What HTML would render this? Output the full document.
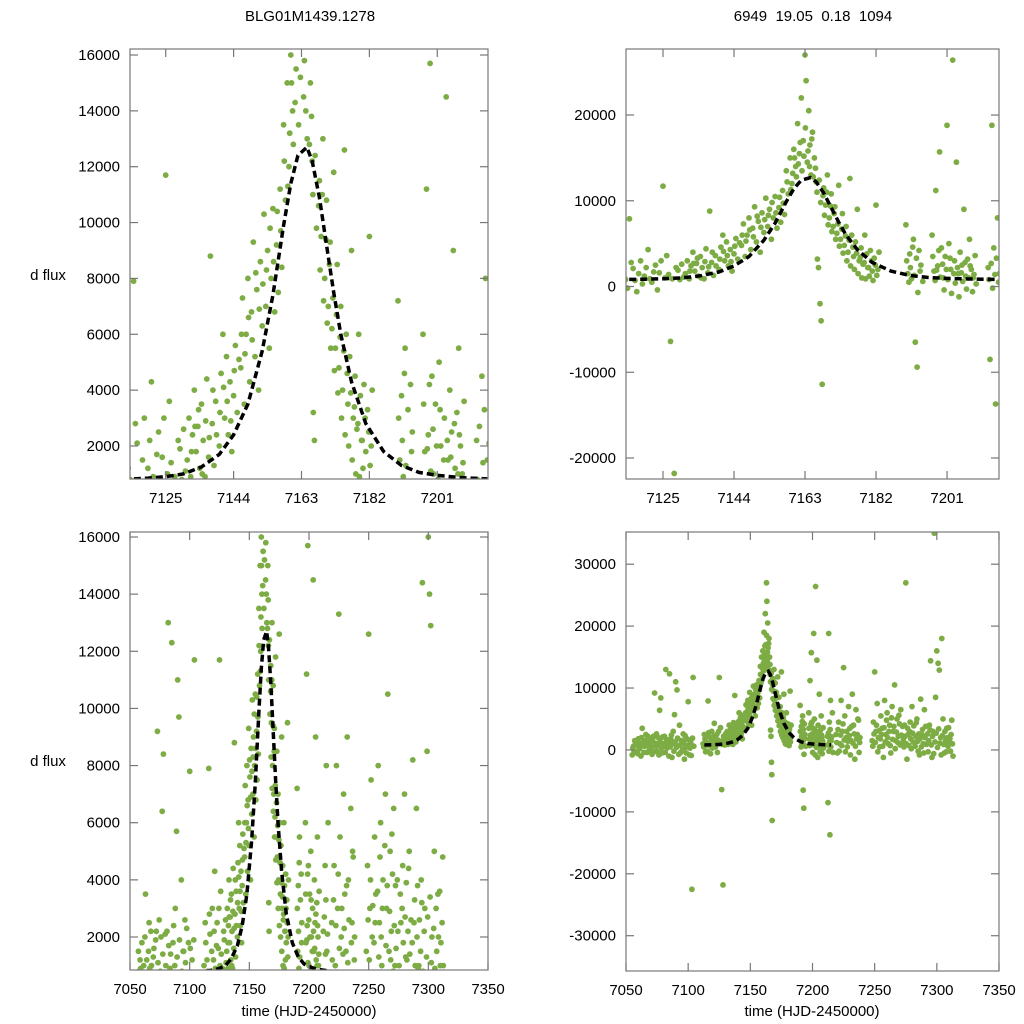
<!DOCTYPE html>
<html><head><meta charset="utf-8"><style>
html,body{margin:0;padding:0;background:#fff;width:1024px;height:1024px;overflow:hidden;}
svg{display:block;font-family:"Liberation Sans",sans-serif;}
</style></head><body>
<svg id="chart" width="1024" height="1024" viewBox="0 0 1024 1024">
<text x="310" y="21" font-size="15" text-anchor="middle" fill="#000">BLG01M1439.1278</text>
<text x="813" y="21" font-size="15" text-anchor="middle" fill="#000" xml:space="preserve">6949  19.05  0.18  1094</text>
<text x="48" y="280" font-size="15" text-anchor="middle">d flux</text>
<text x="48" y="766" font-size="15" text-anchor="middle">d flux</text>
<text x="309" y="1016" font-size="15" text-anchor="middle">time (HJD-2450000)</text>
<text x="812" y="1016" font-size="15" text-anchor="middle">time (HJD-2450000)</text>
</svg>
<script>
// observations [time, flux]
const observations = [
[7055,-800],[7056,600],[7057,1500],[7058,-300],[7059,900],[7060,1800],[7061,200],[7062,-1000],[7063,3500],[7064,1200],[7065,600],[7066,2500],[7067,-400],[7068,1000],[7069,300],[7070,1600],[7071,-700],[7072,2200],[7073,9200],[7074,600],[7075,-200],[7076,2000],[7077,6400],[7078,8400],[7079,-500],[7080,1000],[7081,2200],[7082,13000],[7083,300],[7084,1400],[7085,12300],[7086,1800],[7087,-1200],[7088,3000],[7089,5700],[7090,11000],[7091,9700],[7092,700],[7093,4000],[7094,-400],[7095,1500],[7096,2600],[7097,-1500],[7098,400],[7099,1800],[7100,7800],[7101,-800],[7102,1200],[7103,-22500],[7104,11700],
[7112,1000],[7113,2500],[7114,-300],[7115,800],[7116,7900],[7117,2100],[7118,-600],[7119,3000],[7120,1200],[7121,4300],[7122,500],[7123,2500],[7124,1600],[7125,11700],[7125.5,1000],[7126,3600],[7127,-6400],[7127.5,900],[7128,-21800],[7128.5,2200],
[7131,1500],[7131.5,3000],[7132,900],[7132.5,2400],[7133,4000],[7133.5,1800],[7134,2700],[7134.5,1200],[7135,3500],[7135.5,2200],[7136,900],[7136.5,4400],[7137,1600],[7137.5,8800],[7138,2800],[7138.5,1300],[7139,3600],[7140,2000],[7140.5,4600],[7141,6000],[7141.5,3000],[7142,5200],[7142.5,2400],[7143,4300],[7143.5,1800],[7144,3800],[7144.5,5600],
[7146,4800],[7146.5,7300],[7147,3500],[7147.5,6000],[7148,8000],[7148.5,4300],[7149,6800],[7149.5,9300],[7150,5200],[7150.5,7600],[7151,4000],[7151.5,8600],[7152,6300],[7152.5,10300],[7153,7000],[7153.5,9000],[7154,5500],[7154.5,8000],[7155,10500],[7155.5,6800],[7156,9200],[7156.5,7500],[7157,11200],[7157.5,8400],[7158,13500],[7158.5,10800],[7159,15000],[7159.5,12000],[7160,16000],[7160.5,14000],[7161,19000],[7161.5,15500],[7162,22000],[7162.5,17000],[7163,27000],[7163.3,24000],[7163.6,14500],[7164,20500],[7164.3,16500],[7164.6,13000],[7165,18000],[7165.5,15000],[7166,12200],[7166.3,3200],[7166.6,2200],[7167,-2000],[7167.3,-4000],[7167.6,-11400],[7168,11500],[7168.5,9500],[7169,13000],[7169.5,8000],[7170,10800],[7170.5,7000],[7171,9300],[7171.5,6200],[7172,11800],[7172.5,5500],[7173,8500],[7173.5,4800],[7174,7000],[7174.5,4000],[7175,12600],[7175.5,6000],[7176,3500],[7176.5,5200],[7177,9000],[7177.5,3000],[7178,4500],[7178.5,2600],[7179,6000],[7179.5,3800],[7180,2200],[7180.5,4200],[7181,1800],[7181.5,3300],[7182,9500],[7182.5,2000],
[7190,7200],[7190.5,1500],[7191,3800],[7191.5,900],[7192,5500],[7192.5,-6500],[7193,-9400],[7193.5,4200],[7194,2500],[7197,6000],[7197.5,1800],[7198,11200],[7198.5,2400],[7199,15700],[7199.5,4500],[7200,1000],[7200.5,3500],[7201,18800],[7201.5,5000],[7202,2000],[7202.5,26400],[7203,3000],[7203.5,14500],[7204,1500],[7204.5,4000],[7205,2500],[7205.5,9000],[7206,1200],[7206.5,3200],[7207,5500],[7207.5,2000],[7208,1000],[7208.5,3600],
[7212,2200],[7212.5,-8500],[7213,18800],[7213.5,4500],[7214,-13700],[7214.5,8000],[7215,1500],[7216,6000],
[7219,2500],[7220,-500],[7221,4500],[7222,1000],[7223,8000],[7224,3000],[7225,13300],[7226,5500],[7227,2000],[7228,500],[7229,7000],[7230,3500],[7231,1500],[7232,9000],[7233,4000],[7234,-1500],[7235,6500],[7236,2500],[7237,4800],[7238,1200],
[7248,1500],[7249,4500],[7250,12600],[7251,3000],[7252,7500],[7253,2000],[7254,500],[7255,5500],[7256,3500],[7257,-1200],[7258,8000],[7259,2500],[7260,6000],[7261,1000],[7262,4000],[7263,-500],[7264,7000],[7265,3000],[7266,10500],[7267,1500],[7268,5000],[7269,2200],[7270,4200],[7271,6500],[7272,1000],[7274,4000],[7275,27000],[7276,-1500],[7278,3000],[7280,7000],[7282,1200],[7284,5000],[7286,-800],[7287,8200],[7288,2500],[7290,6500],[7292,1000],[7294,4000],[7295,14400],[7296,-1200],[7297,3000],[7298,35000],[7299,8500],[7300,16000],[7301,14000],[7302,12900],[7303,2000],[7304,18000],[7305,5000],[7306,-500],[7308,3500],[7310,1000],[7312,4800],[7313,-1000]
];
// additional baseline-band observations [time, flux]
const observationsBand = [
[7055.5,300],[7056.5,-200],[7057.5,800],[7058.5,1200],[7059.5,-600],[7060.5,400],[7061.5,1000],[7062.5,2000],[7063.5,700],[7064.5,-400],[7065.5,1500],[7066.5,900],[7067.5,2200],[7068.5,-100],[7069.5,1300],[7070.5,500],[7071.5,1900],[7072.5,-300],[7073.5,1100],[7074.5,2600],[7075.5,800],[7076.5,-800],[7077.5,1400],[7078.5,300],[7079.5,2100],[7080.5,600],[7081.5,-400],[7082.5,1700],[7083.5,900],[7084.5,-1000],[7085.5,500],[7086.5,2400],[7087.5,1000],[7088.5,-200],[7089.5,1300],[7090.5,400],[7091.5,1900],[7092.5,-700],[7093.5,800],[7094.5,1500],[7095.5,100],[7096.5,1100],[7097.5,2300],[7098.5,-500],[7099.5,700],[7100.5,1600],[7101.5,300],[7102.5,-900],[7103.5,1900],[7104.5,600],
[7112.5,500],[7113.5,1800],[7114.5,1200],[7115.5,-200],[7116.5,2800],[7117.5,700],[7118.5,1500],[7119.5,300],[7120.5,2200],[7121.5,900],[7122.5,1700],[7123.5,-400],[7124.5,3000],[7126.5,1400],[7129,1900],[7129.5,800],[7130,2600],[7130.5,1100],
[7132.2,1800],[7133.2,2700],[7134.2,3300],[7135.2,1000],[7136.2,2900],[7137.2,2300],[7138.2,4000],[7139.2,2400],[7140.2,3200],[7141.2,4100],[7142.2,3600],[7143.2,2900],[7144.2,4700],[7145,3200],[7145.5,5100],[7146.2,6000],[7147.2,5300],[7148.2,6600],[7149.2,5800],[7150.2,8200],[7151.2,6900],[7152.2,7800],[7153.2,8300],[7154.2,9800],[7155.2,8600],[7156.2,10400],[7157.2,9700],[7158.2,12200],[7159.2,11300],[7159.7,13200],[7160.2,15000],[7160.7,12800],[7161.2,14300],[7161.7,16800],[7162.2,13500],[7162.7,15200],[7163.1,18500],[7163.8,15800],[7164.2,14000],[7164.8,17200],[7165.2,12800],[7165.8,13800],[7166.2,11000],[7166.8,12400],[7167.2,9800],[7167.8,10600],[7168.2,8300],[7168.8,11000],[7169.2,7200],[7169.8,9400],[7170.2,6400],[7170.8,8500],[7171.2,5500],[7171.8,7300],[7172.2,4700],[7172.8,6700],[7173.2,3900],[7173.8,5900],[7174.2,3000],[7174.8,5400],[7175.2,2400],[7175.8,4600],[7176.2,2000],[7176.8,3900],[7177.2,1500],[7177.8,3400],[7178.2,1000],[7178.8,2800],[7179.2,900],[7179.8,2200],[7180.2,1200],[7180.8,3000],[7181.2,700],[7181.8,2500],[7182.2,1300],[7182.8,4000],
[7190.2,3000],[7190.8,500],[7191.2,2200],[7191.8,4600],[7192.2,1300],[7192.8,3300],[7193.2,-700],[7193.8,1800],[7194.5,600],[7197.2,3500],[7197.8,700],[7198.2,1900],[7198.8,4200],[7199.2,1100],[7199.8,2600],[7200.2,-400],[7200.8,2000],[7201.2,800],[7201.8,3300],[7202.2,-800],[7202.8,1500],[7203.2,400],[7203.8,2200],[7204.2,-1200],[7204.8,1600],[7205.2,600],[7205.8,2800],[7206.2,-300],[7206.8,1000],[7207.2,2400],[7207.8,-600],[7208.2,1400],[7208.8,300],
[7212.2,800],[7212.8,2700],[7213.2,-200],[7213.8,1400],[7214.2,3300],[7214.8,500],[7215.5,2100],[7216.5,-400],
[7219.5,1200],[7220.5,3300],[7221.5,-200],[7222.5,2400],[7223.5,700],[7224.5,4200],[7225.5,1600],[7226.5,-300],[7227.5,3000],[7228.5,1400],[7229.5,2300],[7230.5,-800],[7231.5,3800],[7232.5,1100],[7233.5,2600],[7234.5,600],[7235.5,1800],[7236.5,5000],[7237.5,-400],[7238.2,2000],
[7248.5,600],[7249.5,2600],[7250.5,1200],[7251.5,4000],[7252.5,-300],[7253.5,3100],[7254.5,1800],[7255.5,2500],[7256.5,600],[7257.5,3600],[7258.5,1300],[7259.5,4800],[7260.5,2000],[7261.5,3000],[7262.5,700],[7263.5,5200],[7264.5,1700],[7265.5,3800],[7266.5,200],[7267.5,2900],[7268.5,1200],[7269.5,5600],[7270.5,800],[7271.5,2400],[7272.5,3800],[7273,1600],[7273.5,500],[7274.5,2200],[7275.5,1000],[7276.5,3500],[7277,2500],[7277.5,700],[7278.5,4500],[7279,1800],[7279.5,200],[7280.5,2700],[7281,1300],[7281.5,3900],[7282.5,600],[7283,2200],[7283.5,4400],[7284.5,1400],[7285,-200],[7285.5,2600],[7286.5,1800],[7287.5,500],[7288.5,3300],[7289,1000],[7289.5,-500],[7290.5,2000],[7291,3800],[7291.5,900],[7292.5,2600],[7293,-300],[7293.5,1500],[7294.5,3200],[7295.5,800],[7296.5,2200],[7297.5,-600],[7298.5,1300],[7299.5,2700],[7300.5,400],[7301.5,3400],[7302.5,1100],[7303.5,-800],[7304.5,2300],[7305.5,900],[7306.5,3000],[7307,1500],[7307.5,-300],[7308.5,2000],[7309,600],[7309.5,3600],[7310.5,1800],[7311,-200],[7311.5,2500],[7312.5,1000]
];
// model curve [time, flux]
const modelCurve = [
[7113,800],[7120,850],[7125,900],[7130,1000],[7135,1250],[7140,1700],[7144,2400],[7148,3500],[7152,5400],[7155,7400],[7158,9900],[7160,11400],[7162,12400],[7164.5,12700],[7166,12200],[7168,10900],[7170,9200],[7172,7500],[7174,6000],[7177,4300],[7181,2800],[7186,1800],[7191,1300],[7196,1050],[7201,950],[7207,870],[7215,820]
];
const tickTop = ["7125","7144","7163","7182","7201"];
const tickBottom = ["7050","7100","7150","7200","7250","7300","7350"];
const yTicksLeftTop = ["2000","4000","6000","8000","10000","12000","14000","16000"];
const yTicksRightTop = ["-20000","-10000","0","10000","20000"];
const yTicksRightBottom = ["-30000","-20000","-10000","0","10000","20000","30000"];

const panels = [
 {id:'top-left', x0:130,x1:488,y0:49,y1:479, xd:[7115,7215.2], yd:[818,16215], xt:tickTop, yt:yTicksLeftTop},
 {id:'top-right', x0:626,x1:999,y0:49,y1:479, xd:[7115.1,7214.9], yd:[-22450,27700], xt:tickTop, yt:yTicksRightTop},
 {id:'bottom-left', x0:130,x1:488,y0:532,y1:970, xd:[7050,7350], yd:[845,16175], xt:tickBottom, yt:yTicksLeftTop},
 {id:'bottom-right', x0:626,x1:999,y0:532,y1:971, xd:[7050,7350], yd:[-35700,35200], xt:tickBottom, yt:yTicksRightBottom}
];
const NS='http://www.w3.org/2000/svg';
const svg=document.getElementById('chart');
function mk(tag, attrs, parent){const e=document.createElementNS(NS,tag);for(const k in attrs)e.setAttribute(k,attrs[k]);(parent||svg).appendChild(e);return e;}
const defs=mk('defs',{});
const allObs = observations.concat(observationsBand);
panels.forEach(p=>{
  const sx=v=>p.x0+(v-p.xd[0])/(p.xd[1]-p.xd[0])*(p.x1-p.x0);
  const sy=v=>p.y1-(v-p.yd[0])/(p.yd[1]-p.yd[0])*(p.y1-p.y0);
  const cp=mk('clipPath',{id:'clip-'+p.id},defs);
  mk('rect',{x:p.x0,y:p.y0,width:p.x1-p.x0,height:p.y1-p.y0},cp);
  const g=mk('g',{'clip-path':'url(#clip-'+p.id+')'});
  
  
  allObs.forEach(o=>{
    if(o[0]<p.xd[0]-1||o[0]>p.xd[1]+1||o[1]<p.yd[0]-200||o[1]>p.yd[1]+200) return;
    const c=mk('circle',{cx:sx(o[0]).toFixed(1),cy:sy(o[1]).toFixed(1),r:2.9,fill:'#7dac45'},g);
    
    
  });
  let d='';
  modelCurve.forEach((m,i)=>{d+=(i?'L':'M')+sx(m[0]).toFixed(1)+','+sy(m[1]).toFixed(1);});
  const path=mk('path',{d:d,fill:'none',stroke:'#000','stroke-width':3.5,'stroke-dasharray':'7,4'},g);
  
  
  const fr=mk('rect',{x:p.x0,y:p.y0,width:p.x1-p.x0,height:p.y1-p.y0,fill:'none',stroke:'#777','stroke-width':1.2});
  
  
  p.xt.forEach(t=>{
    const x=sx(+t);
    mk('line',{x1:x,x2:x,y1:p.y1,y2:p.y1-8,stroke:'#777','stroke-width':1.2});
    mk('line',{x1:x,x2:x,y1:p.y0,y2:p.y0+8,stroke:'#777','stroke-width':1.2});
    const tx=mk('text',{x:x,y:p.y1+24,'font-size':15,'text-anchor':'middle'});
    tx.textContent=t;
    
    
  });
  p.yt.forEach(t=>{
    const y=sy(+t);
    mk('line',{x1:p.x0,x2:p.x0+8,y1:y,y2:y,stroke:'#777','stroke-width':1.2});
    mk('line',{x1:p.x1,x2:p.x1-8,y1:y,y2:y,stroke:'#777','stroke-width':1.2});
    const ty=mk('text',{x:p.x0-10,y:y+5,'font-size':15,'text-anchor':'end'});
    ty.textContent=t;
    
    
  });
});
</script>
</body></html>
